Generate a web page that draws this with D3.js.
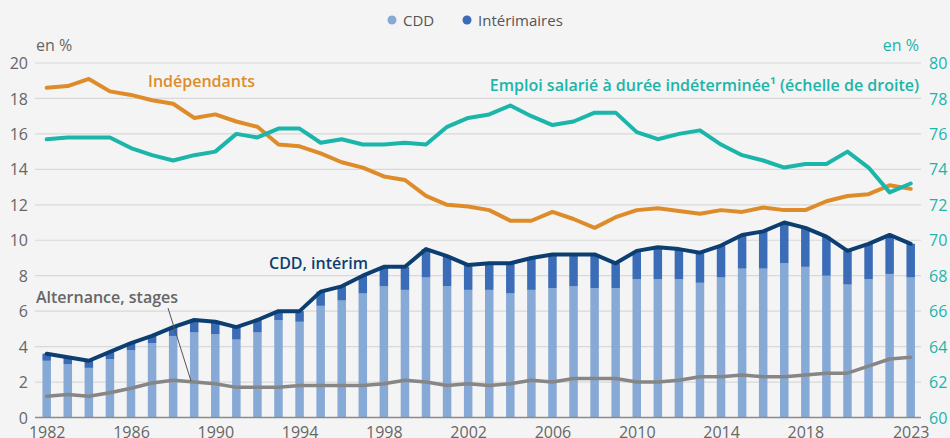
<!DOCTYPE html>
<html>
<head>
<meta charset="utf-8">
<script src="https://cdn.jsdelivr.net/npm/d3@7/dist/d3.min.js"></script>
<style>
    html, body { margin: 0; padding: 0; background: #f4f4f4; }
    svg { display: block; font-family: "Open Sans", sans-serif; }
</style>
</head>
<body>
<div id="viewportContainer"></div>
<script>
/* --- データ --- */
const years = d3.range(1982, 2024);
const xTickYears = [1982, 1986, 1990, 1994, 1998, 2002, 2006, 2010, 2014, 2018, 2023];
const yLeftTicks = [0, 2, 4, 6, 8, 10, 12, 14, 16, 18, 20];
const yRightTicks = [60, 62, 64, 66, 68, 70, 72, 74, 76, 78, 80];

// CDD (partie claire des barres)
const cdd = [3.2, 3.0, 2.8, 3.3, 3.8, 4.2, 4.6, 4.8, 4.7, 4.4, 4.8, 5.5, 5.4, 6.3,
             6.6, 7.0, 7.4, 7.2, 7.9, 7.4, 7.2, 7.2, 7.0, 7.2, 7.3, 7.4, 7.3, 7.3,
             7.8, 7.8, 7.8, 7.6, 7.9, 8.4, 8.4, 8.7, 8.5, 8.0, 7.5, 7.8, 8.1, 7.9];
// CDD + intérim (total, ligne bleu foncé)
const cddInterim = [3.6, 3.4, 3.2, 3.7, 4.2, 4.6, 5.1, 5.5, 5.4, 5.1, 5.5, 6.0, 6.0, 7.1,
                    7.4, 8.0, 8.5, 8.5, 9.5, 9.1, 8.6, 8.7, 8.7, 9.0, 9.2, 9.2, 9.2, 8.7,
                    9.4, 9.6, 9.5, 9.3, 9.7, 10.3, 10.5, 11.0, 10.7, 10.2, 9.4, 9.8, 10.3, 9.8];
// Alternance, stages
const alternance = [1.2, 1.3, 1.2, 1.4, 1.65, 1.95, 2.1, 2.0, 1.9, 1.7, 1.7, 1.7, 1.8, 1.8,
                    1.8, 1.8, 1.9, 2.1, 2.0, 1.8, 1.9, 1.8, 1.9, 2.1, 2.0, 2.2, 2.2, 2.2,
                    2.0, 2.0, 2.1, 2.3, 2.3, 2.4, 2.3, 2.3, 2.4, 2.5, 2.5, 2.9, 3.3, 3.4];
// Indépendants
const independants = [18.6, 18.7, 19.1, 18.4, 18.2, 17.9, 17.7, 16.9, 17.1, 16.7, 16.4, 15.4, 15.3, 14.9,
                      14.4, 14.1, 13.6, 13.4, 12.5, 12.0, 11.9, 11.7, 11.1, 11.1, 11.6, 11.2, 10.7, 11.3,
                      11.7, 11.8, 11.65, 11.5, 11.7, 11.6, 11.85, 11.7, 11.7, 12.2, 12.5, 12.6, 13.1, 12.9];
// Emploi salarié à durée indéterminée (échelle de droite)
const cdi = [75.7, 75.8, 75.8, 75.8, 75.2, 74.8, 74.5, 74.8, 75.0, 76.0, 75.8, 76.3, 76.3, 75.5,
             75.7, 75.4, 75.4, 75.5, 75.4, 76.4, 76.9, 77.1, 77.6, 77.0, 76.5, 76.7, 77.2, 77.2,
             76.1, 75.7, 76.0, 76.2, 75.4, 74.8, 74.5, 74.1, 74.3, 74.3, 75.0, 74.1, 72.7, 73.2];

/* --- ビューポート --- */
const viewport = {width: 950, height: 438};
const plot = {left: 35, right: 921, top: 63, bottom: 417.5};

const colors = {
    cdd: "#86a9d6",
    interim: "#3b6cb7",
    total: "#0d3e72",
    alternance: "#868686",
    independants: "#de8c2a",
    cdi: "#1bb5aa",
    grid: "#d8d8d8",
    text: "#666666"
};

/*--- スケール ---*/
const xScale = d3.scaleLinear().domain([1982, 2023]).range([46.7, 910.7]);
const yScale = d3.scaleLinear().domain([0, 20]).range([plot.bottom, plot.top]);
const yRightScale = d3.scaleLinear().domain([60, 80]).range([plot.bottom, plot.top]);
const barWidth = 8.5;

const svg = d3.select("#viewportContainer")
    .append("svg")
    .attr("width", viewport.width)
    .attr("height", viewport.height);

/*--- グリッド ---*/
svg.append("g")
    .selectAll("line")
    .data(yLeftTicks.filter(d => d > 0))
    .enter()
    .append("line")
    .attr("x1", plot.left)
    .attr("x2", plot.right)
    .attr("y1", d => yScale(d))
    .attr("y2", d => yScale(d))
    .attr("stroke", colors.grid)
    .attr("stroke-width", 1.2);

/*--- 軸 ---*/
const yAxisLeft = d3.axisLeft(yScale).tickValues(yLeftTicks).tickSize(0).tickPadding(0);
const yAxisRight = d3.axisRight(yRightScale).tickValues(yRightTicks).tickSize(0).tickPadding(0);
const xAxis = d3.axisBottom(xScale).tickValues(xTickYears).tickFormat(d3.format("d")).tickSize(0).tickPadding(0);

const leftAxisG = svg.append("g")
    .attr("transform", "translate(28,0)")
    .call(yAxisLeft);
leftAxisG.select(".domain").remove();
leftAxisG.selectAll("text")
    .attr("font-size", 16)
    .attr("font-family", "Open Sans")
    .attr("fill", colors.text)
    .attr("dy", "0.35em");

const rightAxisG = svg.append("g")
    .attr("transform", "translate(929,0)")
    .call(yAxisRight);
rightAxisG.select(".domain").remove();
rightAxisG.selectAll("text")
    .attr("font-size", 16)
    .attr("font-family", "Open Sans")
    .attr("fill", colors.cdi)
    .attr("dy", "0.35em");

const xAxisG = svg.append("g")
    .attr("transform", "translate(0," + plot.bottom + ")")
    .call(xAxis);
xAxisG.select(".domain").remove();
xAxisG.selectAll("text")
    .attr("font-size", 16)
    .attr("font-family", "Open Sans")
    .attr("fill", colors.text)
    .attr("y", 20)
    .attr("dy", 0);

/*--- 棒グラフ ---*/
const barData = years.map((y, i) => ({year: y, cdd: cdd[i], total: cddInterim[i]}));

svg.append("g")
    .selectAll("rect")
    .data(barData)
    .enter()
    .append("rect")
    .attr("x", d => xScale(d.year) - barWidth / 2)
    .attr("width", barWidth)
    .attr("y", d => yScale(d.cdd))
    .attr("height", d => yScale(0) - yScale(d.cdd))
    .attr("fill", colors.cdd);

svg.append("g")
    .selectAll("rect")
    .data(barData)
    .enter()
    .append("rect")
    .attr("x", d => xScale(d.year) - barWidth / 2)
    .attr("width", barWidth)
    .attr("y", d => yScale(d.total))
    .attr("height", d => yScale(d.cdd) - yScale(d.total))
    .attr("fill", colors.interim);

// axe des abscisses
svg.append("line")
    .attr("x1", plot.left)
    .attr("x2", plot.right)
    .attr("y1", yScale(0))
    .attr("y2", yScale(0))
    .attr("stroke", "#8a8a8a")
    .attr("stroke-width", 1.5);

/*--- 折れ線 ---*/
const drawLine = function(values, scale, color, width) {
    const line = d3.line()
        .x((d, i) => xScale(years[i]))
        .y(d => scale(d));
    svg.append("path")
        .datum(values)
        .attr("d", line)
        .attr("fill", "none")
        .attr("stroke", color)
        .attr("stroke-width", width)
        .attr("stroke-linejoin", "round")
        .attr("stroke-linecap", "round");
};

drawLine(alternance, yScale, colors.alternance, 3.5);
drawLine(cddInterim, yScale, colors.total, 4);
drawLine(independants, yScale, colors.independants, 4);
drawLine(cdi, yRightScale, colors.cdi, 4);

/*--- ラベル ---*/
const addText = function(txt, x, y, color, opts) {
    opts = opts || {};
    return svg.append("text")
        .attr("x", x)
        .attr("y", y)
        .attr("fill", color)
        .attr("font-size", opts.size || 16)
        .attr("font-weight", opts.weight || 400)
        .attr("text-anchor", opts.anchor || "start")
        .text(txt);
};

addText("en %", 36, 51, colors.text);
addText("en %", 919, 51, colors.cdi, {anchor: "end"});

addText("Indépendants", 148, 86.5, colors.independants, {weight: 600});
addText("Emploi salarié à durée indéterminée¹ (échelle de droite)", 919, 90.5, colors.cdi, {weight: 600, anchor: "end"});
addText("CDD, intérim", 269, 269, colors.total, {weight: 600});
addText("Alternance, stages", 36, 302.5, colors.text, {weight: 600});

// trait de rappel
svg.append("line")
    .attr("x1", 168)
    .attr("y1", 308)
    .attr("x2", 191)
    .attr("y2", 381)
    .attr("stroke", "#555555")
    .attr("stroke-width", 1);

/*--- 凡例 ---*/
const legendItems = [
    {label: "CDD", color: colors.cdd, x: 392},
    {label: "Intérimaires", color: colors.interim, x: 467}
];
const legend = svg.append("g");
legendItems.forEach(item => {
    legend.append("circle")
        .attr("cx", item.x)
        .attr("cy", 20)
        .attr("r", 4.5)
        .attr("fill", item.color);
    legend.append("text")
        .attr("x", item.x + 11)
        .attr("y", 25.5)
        .attr("font-size", 15)
        .attr("fill", "#555555")
        .text(item.label);
});
</script>
</body>
</html>
